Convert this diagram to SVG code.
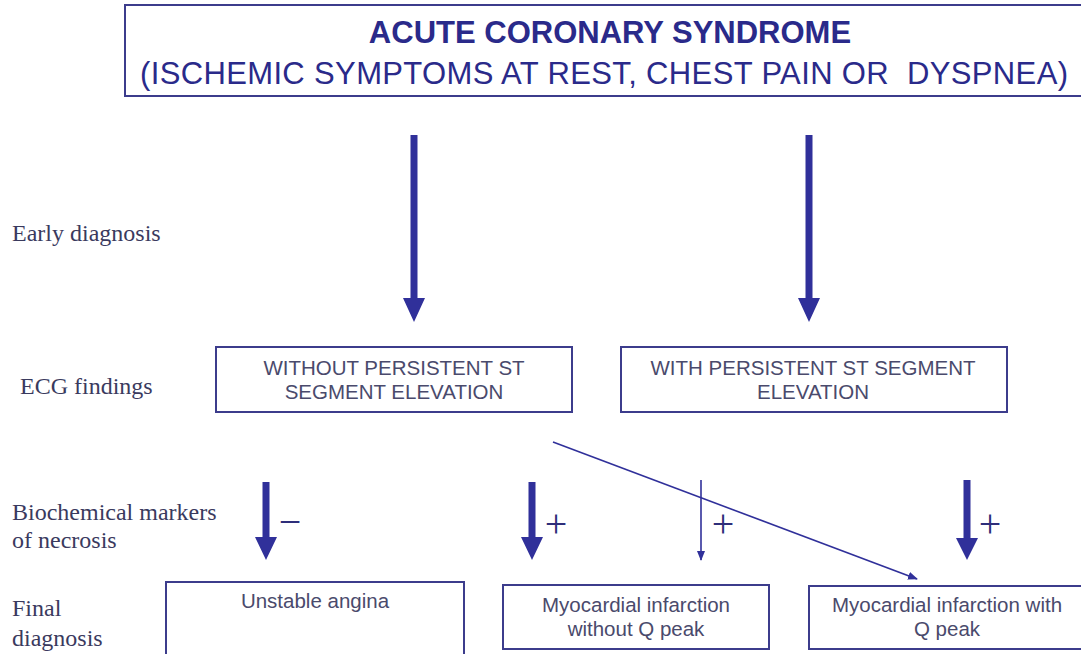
<svg xmlns="http://www.w3.org/2000/svg" width="1081" height="654" viewBox="0 0 1081 654">
<style>
  .box{fill:#ffffff;stroke:#3c3c8c;stroke-width:2}
  .title{font-family:"Liberation Sans",Arial,sans-serif;fill:#2a2a8a}
  .btext{font-family:"Liberation Sans",Arial,sans-serif;font-size:20.5px;fill:#4a4a6c;text-anchor:middle}
  .lbl{font-family:"Liberation Serif","Times New Roman",serif;font-size:24px;fill:#3a3a5e}
  .sign{font-family:"Liberation Serif","Times New Roman",serif;font-size:40px;fill:#2e2e7a;text-anchor:middle}
  .bold{fill:#30309a}
  .thin{stroke:#30309a;stroke-width:1.6;fill:none}
</style>
<defs>
  <marker id="ah" markerWidth="10" markerHeight="10" refX="9" refY="5" orient="auto" markerUnits="userSpaceOnUse">
    <path d="M0,1 L10,5 L0,9 Z" fill="#30309a"/>
  </marker>
</defs>
<rect width="1081" height="654" fill="#ffffff"/>

<g id="title">
  <rect class="box" x="125" y="5" width="965" height="91" stroke="#5a5a9a"/>
  <text class="title" x="610" y="43" font-size="31" font-weight="bold" text-anchor="middle">ACUTE CORONARY SYNDROME</text>
  <text class="title" x="604" y="84" font-size="31" text-anchor="middle" textLength="928" lengthAdjust="spacing">(ISCHEMIC SYMPTOMS AT REST, CHEST PAIN OR&#160; DYSPNEA)</text>
</g>

<g id="labels">
  <text class="lbl" x="12" y="241">Early diagnosis</text>
  <text class="lbl" x="20" y="394">ECG findings</text>
  <text class="lbl" x="12" y="520">Biochemical markers</text>
  <text class="lbl" x="12" y="548">of necrosis</text>
  <text class="lbl" x="12" y="616">Final</text>
  <text class="lbl" x="12" y="646">diagnosis</text>
</g>

<g id="ecg-without">
  <rect class="box" x="216" y="347" width="356" height="65"/>
  <text class="btext" x="394" y="375">WITHOUT PERSISTENT ST</text>
  <text class="btext" x="394" y="399">SEGMENT ELEVATION</text>
</g>

<g id="ecg-with">
  <rect class="box" x="621" y="347" width="386" height="65"/>
  <text class="btext" x="813" y="375">WITH PERSISTENT ST SEGMENT</text>
  <text class="btext" x="813" y="399">ELEVATION</text>
</g>

<g id="unstable-angina">
  <rect class="box" x="166" y="582" width="298" height="80"/>
  <text class="btext" x="315" y="608">Unstable angina</text>
</g>

<g id="mi-without-q">
  <rect class="box" x="503" y="585" width="266" height="64"/>
  <text class="btext" x="636" y="612">Myocardial infarction</text>
  <text class="btext" x="636" y="636">without Q peak</text>
</g>

<g id="mi-with-q">
  <rect class="box" x="809" y="586" width="280" height="63"/>
  <text class="btext" x="947" y="612">Myocardial infarction with</text>
  <text class="btext" x="947" y="636">Q peak</text>
</g>

<g id="connectors">
  <polygon class="bold" points="410.5,135 417.5,135 417.5,298 425,298 414,322 403,298 410.5,298"/>
  <polygon class="bold" points="805.5,135 812.5,135 812.5,298 820,298 809,322 798,298 805.5,298"/>
  <polygon class="bold" points="262.5,482 269.5,482 269.5,537 277,537 266,560 255,537 262.5,537"/>
  <polygon class="bold" points="528.5,482 535.5,482 535.5,537 543,537 532,560 521,537 528.5,537"/>
  <polygon class="bold" points="963.5,480 970.5,480 970.5,538 978,538 967,560 956,538 963.5,538"/>
  <line class="thin" x1="701" y1="480" x2="701" y2="560" marker-end="url(#ah)"/>
  <line class="thin" x1="553" y1="442" x2="917" y2="579" marker-end="url(#ah)"/>
  <text class="sign" x="290" y="535">−</text>
  <text class="sign" x="556" y="537">+</text>
  <text class="sign" x="723" y="537">+</text>
  <text class="sign" x="990" y="537">+</text>
</g>
</svg>
